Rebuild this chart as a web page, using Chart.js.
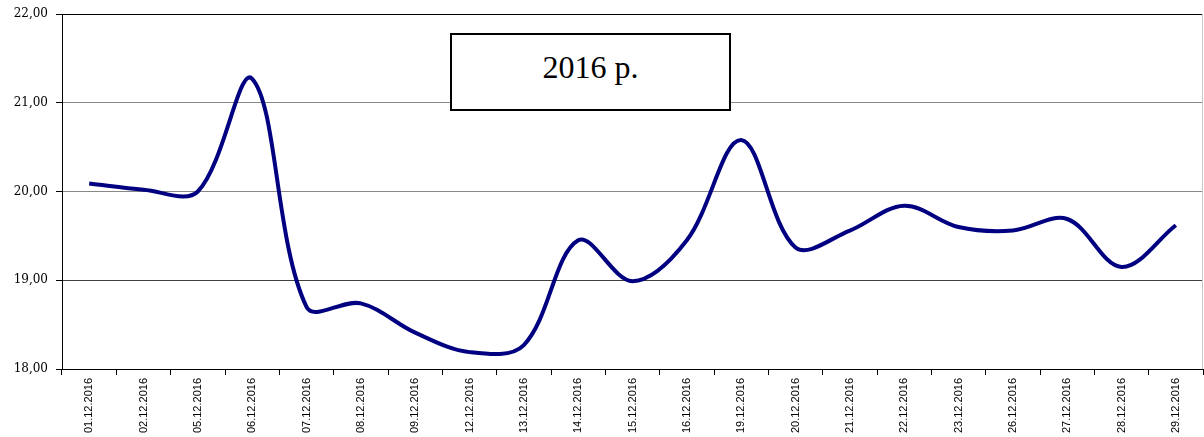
<!DOCTYPE html>
<html lang="uk">
<head>
    <meta charset="UTF-8">
    <title>2016 р.</title>
    <script src="https://cdn.jsdelivr.net/npm/chart.js"></script>
    <style>
        html, body {
            margin: 0;
            padding: 0;
            background: #ffffff;
        }
        .wrap {
            position: relative;
            width: 1204px;
            height: 437px;
        }
        .title-box {
            position: absolute;
            left: 450px;
            top: 33px;
            width: 277px;
            height: 58px;
            padding-top: 16px;
            border: 2px solid #000;
            background: #fff;
            font-family: "Liberation Serif", "Times New Roman", serif;
            font-size: 32px;
            line-height: 32px;
            text-align: center;
            color: #000;
        }
    </style>
</head>
<body>
    <div class="wrap">
        <canvas id="rateChart" width="1204" height="437"></canvas>
        <div class="title-box">2016 р.</div>
    </div>

    <script>
        // dates of the trading days
        const dates = [
            '01.12.2016', '02.12.2016', '05.12.2016', '06.12.2016', '07.12.2016',
            '08.12.2016', '09.12.2016', '12.12.2016', '13.12.2016', '14.12.2016',
            '15.12.2016', '16.12.2016', '19.12.2016', '20.12.2016', '21.12.2016',
            '22.12.2016', '23.12.2016', '26.12.2016', '27.12.2016', '28.12.2016',
            '29.12.2016'
        ];

        // values
        const rates = [
            20.09, 20.02, 20.00, 21.27, 18.70,
            18.74, 18.41, 18.19, 18.27, 19.45,
            18.99, 19.45, 20.58, 19.37, 19.56,
            19.84, 19.60, 19.56, 19.69, 19.15,
            19.62
        ];

        const yTicks = [18, 19, 20, 21, 22];

        // thin grey frame on the right side of the plot area
        const rightEdge = {
            id: 'rightEdge',
            afterDraw(chart) {
                const { ctx, chartArea } = chart;
                ctx.save();
                ctx.strokeStyle = '#c8c8c8';
                ctx.lineWidth = 1;
                ctx.beginPath();
                ctx.moveTo(chartArea.right - 0.5, chartArea.top);
                ctx.lineTo(chartArea.right - 0.5, chartArea.bottom);
                ctx.stroke();
                ctx.restore();
            }
        };

        new Chart(document.getElementById('rateChart'), {
            type: 'line',
            data: {
                labels: dates,
                datasets: [{
                    data: rates,
                    borderColor: '#000080',
                    borderWidth: 4,
                    pointRadius: 0,
                    tension: 0.35,
                    fill: false
                }]
            },
            options: {
                responsive: false,
                animation: false,
                layout: { padding: { top: 6, right: 1, left: 0, bottom: 0 } },
                plugins: {
                    legend: { display: false },
                    tooltip: { enabled: false }
                },
                scales: {
                    x: {
                        type: 'category',
                        offset: true,
                        afterFit(axis) { axis.height = 68; },
                        grid: {
                            offset: true,
                            drawOnChartArea: false,
                            drawTicks: true,
                            tickLength: 6,
                            color: '#000'
                        },
                        border: { color: '#000', width: 1 },
                        ticks: {
                            autoSkip: false,
                            minRotation: 90,
                            maxRotation: 90,
                            padding: 3,
                            color: '#000',
                            font: { family: '"Liberation Sans", Arial, sans-serif', size: 11 }
                        }
                    },
                    y: {
                        min: yTicks[0],
                        max: yTicks[yTicks.length - 1],
                        afterFit(axis) { axis.width = 62; },
                        afterBuildTicks(axis) {
                            axis.ticks = yTicks.map(v => ({ value: v }));
                        },
                        grid: {
                            tickLength: 6,
                            tickColor: '#000',
                            color: ctx => {
                                const v = ctx.tick && ctx.tick.value;
                                if (v === 22) return '#000';
                                if (v === 19) return '#404040';
                                return '#888';
                            }
                        },
                        border: { color: '#000', width: 1 },
                        ticks: {
                            padding: 8,
                            color: '#000',
                            font: { family: '"DejaVu Serif", serif', size: 12, lineHeight: 1 },
                            callback: v => v.toFixed(2).replace('.', ',')
                        }
                    }
                }
            },
            plugins: [rightEdge]
        });
    </script>
</body>
</html>
